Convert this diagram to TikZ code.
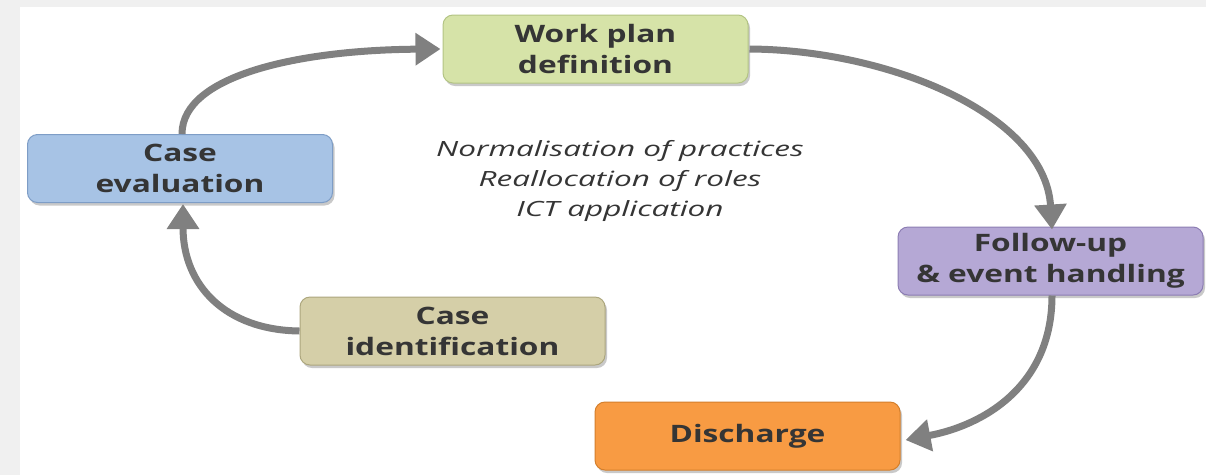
\documentclass[tikz,border=0pt]{standalone}
\usepackage{fontspec}
\setmainfont{Open Sans}
\newfontfamily\boxfont[FakeStretch=1.32]{Open Sans}
\newfontfamily\notefont[FakeStretch=1.5]{Open Sans}
\usetikzlibrary{arrows.meta,shadows}
\definecolor{bggrey}{HTML}{F0F0F0}
\definecolor{arrgrey}{HTML}{808080}
\definecolor{txtgrey}{HTML}{353535}
\definecolor{greenfill}{HTML}{D6E3A8}
\definecolor{greenline}{HTML}{B3C484}
\definecolor{bluefill}{HTML}{A7C3E5}
\definecolor{blueline}{HTML}{7E9DC6}
\definecolor{purplefill}{HTML}{B5A8D5}
\definecolor{purpleline}{HTML}{8C7DB3}
\definecolor{tanfill}{HTML}{D5CFA8}
\definecolor{tanline}{HTML}{ADA77E}
\definecolor{orangefill}{HTML}{F89B43}
\definecolor{orangeline}{HTML}{D47F2C}
\tikzset{
  stagebox/.style={rounded corners=10pt, minimum width=305pt, minimum height=68pt,
    inner sep=0pt, align=center, text=txtgrey, line width=1pt,
    font=\boxfont\bfseries\fontsize{24}{31}\selectfont,
    drop shadow={shadow xshift=2pt, shadow yshift=-3pt, opacity=0.35, fill=black!60}},
  flowarrow/.style={draw=arrgrey, line width=7pt,
    -{Triangle[length=25pt,width=31pt]}},
  notetext/.style={align=center, text=txtgrey, font=\notefont\itshape\fontsize{21}{30}\selectfont}
}
\begin{document}
\begin{tikzpicture}[x=1pt,y=-1pt]
\useasboundingbox (0,0) rectangle (1206,475);
\fill[bggrey] (0,0) rectangle (1206,475);
\fill[white] (20,7) rectangle (1206,475);

\node[stagebox, fill=greenfill, draw=greenline] (wp) at (595.5,49) {Work plan\\definition};
\node[stagebox, fill=bluefill, draw=blueline] (ce) at (180,168.5) {Case\\evaluation};
\node[stagebox, fill=purplefill, draw=purpleline] (fu) at (1050.5,261) {Follow-up\\\& event handling};
\node[stagebox, fill=tanfill, draw=tanline] (ci) at (452.5,331) {Case\\identification};
\node[stagebox, fill=orangefill, draw=orangeline] (dis) at (747.5,436) {Discharge};

\node[notetext] (note) at (620,181) {Normalisation of practices\\Reallocation of roles\\ICT application};

\draw[flowarrow] (ci.west) .. controls (225,330) and (183,285) .. ([xshift=3pt,yshift=-1pt]ce.south);
\draw[flowarrow] ([xshift=2pt]ce.north) .. controls (182,75) and (300,50) .. ([xshift=-2pt]wp.west);
\draw[flowarrow] ([xshift=1pt]wp.east) .. controls (890,50) and (1045,115) .. ([xshift=1.5pt,yshift=-3pt]fu.north);
\draw[flowarrow] ([xshift=1.5pt]fu.south) .. controls (1052,385) and (985,425) .. ([xshift=5pt,yshift=-4pt]dis.east);
\end{tikzpicture}
\end{document}
